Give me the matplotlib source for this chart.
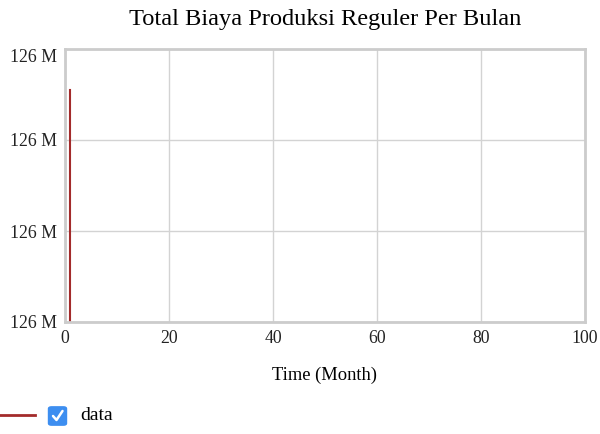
import matplotlib
matplotlib.use("Agg")
import matplotlib.pyplot as plt
from matplotlib.ticker import FuncFormatter
from matplotlib.patches import FancyBboxPatch
from matplotlib.lines import Line2D
from matplotlib.transforms import ScaledTranslation

plt.rcParams['font.family'] = ['Liberation Serif', 'DejaVu Serif']

title = "Total Biaya Produksi Reguler Per Bulan"
x_label = "Time (Month)"
series_name = "data"
time = [1, 1]
values = [126000000.0, 126000025.5]
y_ticks = [126000000.0, 126000010.0, 126000020.0, 126000030.0]
x_ticks = [0, 20, 40, 60, 80, 100]

fig = plt.figure(figsize=(6.0, 4.34), dpi=100)
ax = fig.add_axes([65/600, 1-322/434, 520/600, 273/434])
ax.plot(time, values, color='#a32b2b', lw=1.5)
ax.set_xlim(0, 100)
ax.set_ylim(y_ticks[0], y_ticks[-1])
ax.set_xticks(x_ticks)
ax.set_yticks(y_ticks)
ax.yaxis.set_major_formatter(FuncFormatter(lambda v, p: f"{v/1e6:.0f} M"))
ax.grid(True, color='#d3d3d3', lw=1)
ax.tick_params(length=0, labelsize=12.8, colors='#222222', pad=6)
for s in ax.spines.values():
    s.set_color('#cccccc'); s.set_linewidth(2)
ax.set_xlabel(x_label, fontsize=13.3, labelpad=14)
fig.canvas.draw()
top_lbl = ax.get_yticklabels()[-1]
top_lbl.set_transform(top_lbl.get_transform() + ScaledTranslation(0, -7/100, fig.dpi_scale_trans))
fig.text(325/600, 1-19/434, title, ha='center', va='center', fontsize=17.6)

# legend
fig.add_artist(Line2D([0/600, 35/600], [1-415/434]*2, color='#a32b2b', lw=2))
fig.add_artist(FancyBboxPatch((49/600, 1-425/434), 17/600, 18/434,
                              boxstyle="round,pad=0.002,rounding_size=0.006",
                              transform=fig.transFigure, facecolor='#3d8ef0', edgecolor='none'))
fig.add_artist(Line2D([53/600, 56.5/600, 62.5/600], [1-416/434, 1-420/434, 1-411/434],
                      color='white', lw=1.8, solid_capstyle='round', solid_joinstyle='round'))
fig.text(80/600, 1-415/434, series_name, ha='left', va='center', fontsize=14)

fig.savefig("out.png", dpi=100)
